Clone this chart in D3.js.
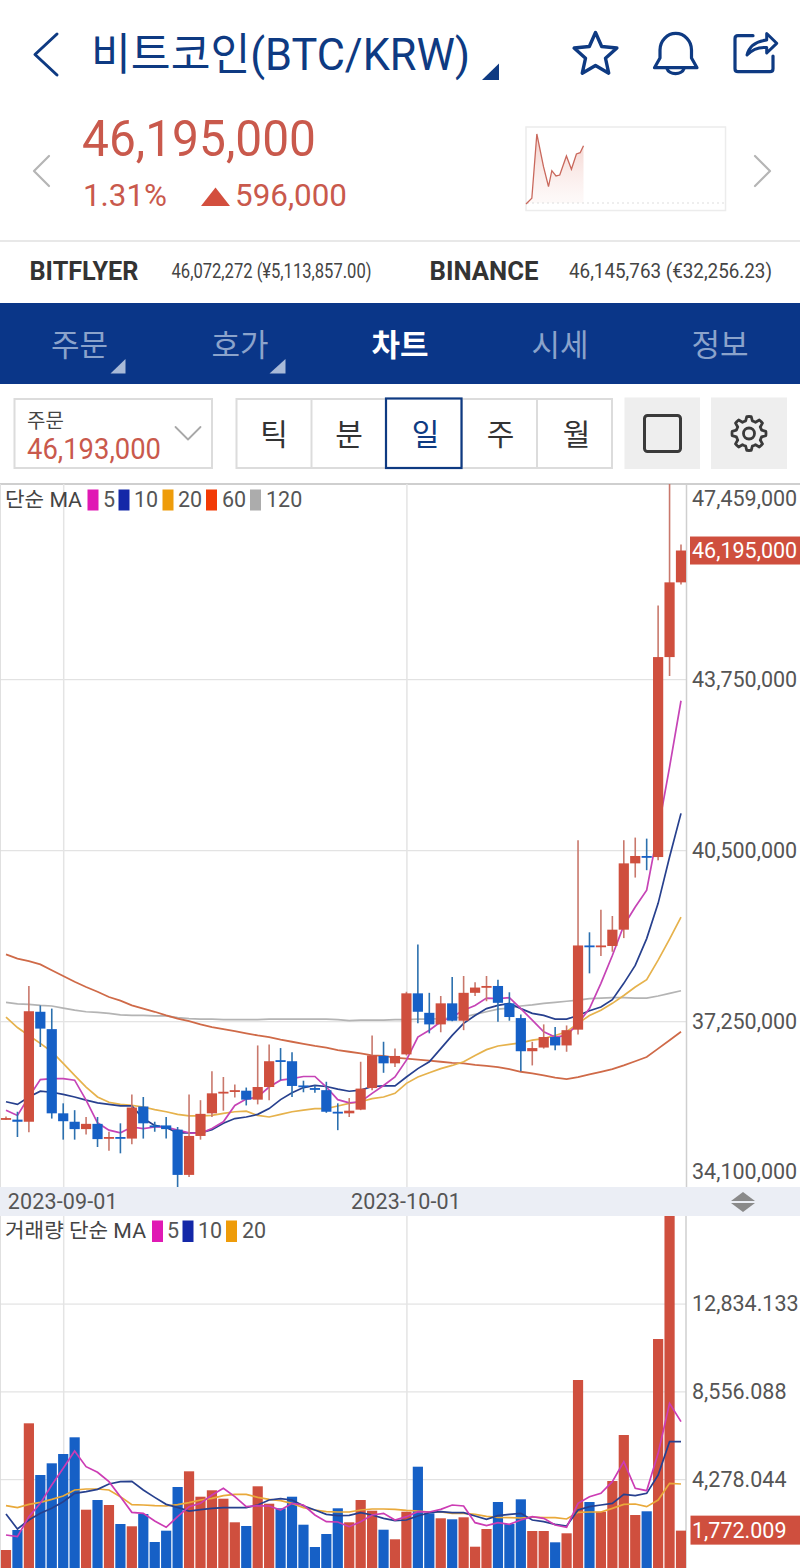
<!DOCTYPE html>
<html lang="ko">
<head>
<meta charset="utf-8">
<title>BTC/KRW</title>
<script src="https://cdn.jsdelivr.net/npm/d3@7"></script>
<style>
  html, body { margin: 0; padding: 0; background: #fff; }
  svg { display: block; font-family: Roboto, "Noto Sans CJK KR", sans-serif; }
  .axis text { font-family: Roboto, sans-serif; font-size: 21.5px; fill: #555; }
  .axis .domain { stroke: #cfcfcf; stroke-width: 1.5; }
  .grid .domain { display: none; }
  .grid text { display: none; }
  .grid-h line { stroke: #dcdcdc; stroke-width: 1; }
  .grid-v line { stroke: #e4e4e4; stroke-width: 1.5; }
</style>
</head>
<body>
<svg id="chart" width="800" height="1568" viewBox="0 0 800 1568"></svg>
<script>
// daily candles, KRW in thousands
const openK = [35390,35380,35340,37430,37100,35500,35340,35200,35300,35020,35050,35020,35630,35270,35270,35190,34330,35070,35500,35880,
  35910,35930,35760,36000,36510,36490,36030,35980,35940,35530,35500,35570,35980,36590,36450,36620,37780,37410,37190,37590,
  37260,37790,37890,37920,37590,37310,36680,36750,36950,36790,37090,38690,38660,38680,38990,40250,40390,40370,44170,45590];
const highK = [35440,35530,37920,37550,37490,35690,35560,35430,35430,35150,35310,35860,35810,35340,35430,35240,35860,35750,36300,36190,
  36050,35990,36790,36810,36740,36660,36120,36030,36100,35690,35790,36480,36980,36860,36730,37810,38710,37790,37730,38090,
  38110,37990,38110,38040,37800,37380,36860,37190,37140,37170,40690,38940,39370,39250,40690,40740,40720,45150,47459,46310];
const lowK = [35380,35050,35140,36760,35400,35000,35000,35100,34860,34790,34740,34910,35020,35150,35020,34100,34290,35000,35430,35550,
  35800,35650,35670,35750,36130,35810,35900,35890,35510,35180,35430,35560,35940,36270,36380,36600,37210,37020,37040,37250,
  37080,37730,37630,37240,37260,36300,36410,36730,36700,36670,37000,38160,38490,38570,38830,39980,40120,40310,43810,45550];
const closeK = [35410,35340,37440,37110,35500,35350,35200,35300,35010,35050,35030,35610,35310,35240,35200,34330,35070,35490,35880,35910,
  35940,35760,36000,36490,36480,36020,36000,35960,35530,35500,35550,35970,36600,36450,36590,37780,37430,37190,37590,37260,
  37790,37890,37920,37600,37330,36680,36740,36950,36790,37080,38690,38660,38690,38990,40250,40390,40370,44170,45590,46195];

const ma5 = [35560,35460,35810,36140,36160,36160,36130,35750,35320,35180,35130,35240,35210,35240,35240,35180,35130,35120,35210,35340,
  35650,35770,35810,36000,36130,36160,36200,36200,36000,35760,35700,35720,35880,36030,36190,36510,36950,37080,37240,37330,
  37460,37550,37690,37680,37700,37490,37270,37050,36950,36980,37210,37490,37970,38500,39070,39420,39740,40880,42080,43340];
const ma10 = [35720,35670,35810,35920,35900,35860,35810,35750,35700,35670,35640,35640,35400,35270,35230,35130,35130,35130,35190,35310,
  35400,35430,35480,35590,35760,35890,35990,36030,36010,35960,35920,35940,36010,36020,36020,36190,36350,36480,36730,36980,
  37210,37360,37490,37550,37590,37490,37400,37360,37290,37290,37360,37450,37520,37660,37970,38310,38820,39490,40370,41200];
const ma20 = [37330,37130,36980,36830,36670,36450,36220,36000,35810,35710,35670,35650,35620,35570,35530,35480,35450,35450,35460,35500,
  35530,35540,35460,35430,35480,35530,35560,35590,35590,35640,35690,35720,35780,35810,35880,36070,36190,36270,36350,36410,
  36480,36600,36710,36780,36810,36840,36890,36920,36980,37050,37210,37360,37460,37590,37740,37900,38040,38410,38810,39230];
const ma60 = [38520,38440,38390,38330,38220,38110,38000,37900,37810,37710,37640,37550,37490,37430,37360,37300,37250,37190,37140,37100,
  37060,37020,36980,36950,36900,36860,36820,36780,36750,36700,36670,36640,36600,36590,36560,36540,36520,36500,36480,36460,
  36450,36420,36400,36380,36340,36290,36260,36220,36180,36150,36190,36240,36290,36340,36410,36490,36570,36730,36890,37050];
const ma120 = [37610,37580,37570,37550,37540,37500,37460,37430,37420,37400,37370,37360,37360,37350,37350,37320,37300,37290,37290,37280,
  37280,37280,37280,37290,37290,37290,37290,37290,37290,37280,37260,37270,37270,37270,37280,37280,37290,37290,37300,37310,
  37330,37380,37430,37480,37500,37540,37560,37590,37610,37630,37650,37680,37690,37700,37700,37690,37690,37730,37780,37830];

const volume = [828,1803,7001,4482,5052,5505,6319,2792,3264,3021,2095,1983,2582,1218,1769,3898,4662,3425,3737,3328,
  2178,1998,3932,3084,2860,3425,2061,974,1608,2860,2178,3264,2743,1817,1350,2694,4887,2616,2373,2324,
  2421,989,1851,3167,2095,3298,1754,1754,1203,1642,9111,3167,2694,4190,6431,2533,2714,11108,17102,1772.009];
const volMa5 = [1559,1478,2452,3102,3995,4807,5652,4888,4612,4157,3427,2663,2615,2241,1933,2452,2939,3102,3508,3833,
  3427,2939,2988,2972,2777,3102,3021,2533,2209,2192,1965,2209,2533,2615,2290,2452,2696,2680,2810,3021,
  2972,2160,2014,2160,2079,2290,2452,2371,2046,1933,3102,3427,3589,4157,5132,3833,3719,5538,7974,7081];
const volMa10 = [2582,1851,2290,2615,2858,3183,3589,3670,3784,4044,4157,4174,3751,3394,3053,2907,2728,2793,2858,2891,
  2891,2891,3021,3264,3329,3264,2988,2777,2566,2501,2517,2647,2533,2371,2257,2290,2485,2647,2696,2647,
  2647,2485,2322,2501,2566,2615,2290,2209,2079,1998,2777,2939,3021,3102,3540,3475,3589,4482,6106,6106];
const volMa20 = [2988,2891,3053,3151,3297,3459,3751,3800,3800,3751,3427,3037,3021,2988,2972,3037,3134,3264,3345,3475,
  3540,3540,3394,3297,3232,3102,2891,2777,2696,2680,2680,2777,2826,2826,2810,2761,2728,2680,2680,2615,
  2615,2566,2468,2420,2404,2387,2436,2404,2404,2339,2663,2680,2680,2858,3053,3069,2939,3264,4076,4044];

const priceTicks = [47459, 43750, 40500, 37250, 34100];
const priceGrid = [43750, 40500, 37250];
const volumeTicks = [4278.044, 8556.088, 12834.133];
const lastPrice = 46195;
const lastVolume = 1772.009;

// 24h mini chart on the header
const sparkHours = [0,0.7,1.3,2.1,2.7,3.1,3.6,4.05,4.85,5.45,6.05,6.5,6.9];
const sparkPrices = [45589,45648,46317,45977,45769,45935,45880,45890,46088,45950,46109,46122,46195];
const prevClose = 45599;

const priceLegend = [
  { label: "5", color: "#e019b4", x: 87.5, tx: 103 },
  { label: "10", color: "#1428a8", x: 118.5, tx: 134 },
  { label: "20", color: "#ee9c0a", x: 162.5, tx: 178 },
  { label: "60", color: "#f23a05", x: 206, tx: 222 },
  { label: "120", color: "#acacac", x: 250, tx: 266 }
];
const volumeLegend = [
  { label: "5", color: "#e019b4", x: 152, tx: 167 },
  { label: "10", color: "#1428a8", x: 182.5, tx: 198 },
  { label: "20", color: "#ee9c0a", x: 226, tx: 242 }
];

const RED = "#cf4f3e";
const BLUE = "#1660c6";
const NAVY = "#0e3a82";
const PRICE_RED = "#c9594c";

const svg = d3.select("#chart");

const txt = (parent, str, x, y, size, fill, opts = {}) => {
  const t = parent.append("text")
    .text(str)
    .attr("x", x)
    .attr("y", y)
    .attr("font-size", size)
    .attr("fill", fill)
    .attr("text-anchor", opts.anchor || "start")
    .attr("font-weight", opts.weight || 400);
  if (opts.len) {
    t.attr("textLength", opts.len).attr("lengthAdjust", "spacingAndGlyphs");
  }
  return t;
};

const icon = (d, stroke, width, fill = "none") => {
  svg.append("path")
    .attr("d", d)
    .attr("fill", fill)
    .attr("stroke", stroke)
    .attr("stroke-width", width)
    .attr("stroke-linejoin", "round")
    .attr("stroke-linecap", "round");
};

/* ---------- header ---------- */
icon("M57,34 L35,54.5 L57,75", NAVY, 3);
txt(svg, "비트코인(BTC/KRW)", 91, 70, 44, NAVY, { len: 379 });
icon("M499,63.5 V80 H482 Z", NAVY, 0, NAVY);

const starPoints = d3.range(10).map((i) => {
  const r = i % 2 === 0 ? 22.5 : 10.5;
  const a = (i * Math.PI) / 5;
  return [595.5 + r * Math.sin(a), 55 - r * Math.cos(a)];
});
icon("M" + starPoints.join("L") + "Z", NAVY, 3.4);
icon("M654.5,67.7 L660,58 V50 A15.7,16.5 0 0 1 691.5,50 V58 L697,67.7 Z", NAVY, 3.2);
icon("M667,68.5 A8.7,6.5 0 0 0 684,68.5", NAVY, 3.2);
icon("M753,35.7 H738 Q735,35.7 735,38.7 V68.7 Q735,71.7 738,71.7 H770 Q773,71.7 773,68.7 V56", NAVY, 3.2);
icon("M747,55 Q750,42 766.7,40 V33.5 L776.7,43.3 L766.7,53 V47.5 Q755,46.5 747,55 Z", NAVY, 3);

icon("M49,156 L34,171 L49,186", "#b5b5b5", 2.2);
icon("M755,156 L770,171 L755,186", "#b5b5b5", 2.2);
txt(svg, "46,195,000", 82, 156, 50, PRICE_RED, { len: 234 });
txt(svg, "1.31%", 83, 206, 32, PRICE_RED, { len: 84 });
icon("M215.5,187.5 L230,206 H201 Z", "none", 0, "#d34f3e");
txt(svg, "596,000", 235, 206, 32, PRICE_RED, { len: 112 });

// mini chart
const spark = svg.append("g");
spark.append("rect")
  .attr("x", 526).attr("y", 127).attr("width", 199.5).attr("height", 83.5)
  .attr("fill", "#fff").attr("stroke", "#ececec").attr("stroke-width", 1.5);
const sparkX = d3.scaleLinear().domain([0, 24]).range([526, 726]);
const sparkY = d3.scaleLinear().domain([prevClose, lastPrice]).range([203, 145.7]);
const sparkGrad = svg.append("defs").append("linearGradient")
  .attr("id", "sparkFill").attr("x1", 0).attr("y1", 0).attr("x2", 0).attr("y2", 1);
sparkGrad.append("stop").attr("offset", "0%").attr("stop-color", "#e9a59b").attr("stop-opacity", 0.55);
sparkGrad.append("stop").attr("offset", "100%").attr("stop-color", "#f6dcd8").attr("stop-opacity", 0.15);
const sparkData = sparkHours.map((h, i) => ({ h: h, p: sparkPrices[i] }));
spark.append("path")
  .attr("d", d3.area().x((d) => sparkX(d.h)).y0(203).y1((d) => sparkY(d.p))(sparkData))
  .attr("fill", "url(#sparkFill)");
spark.append("line")
  .attr("x1", 527).attr("x2", 724).attr("y1", 203).attr("y2", 203)
  .attr("stroke", "#ddd").attr("stroke-dasharray", "2,3");
spark.append("path")
  .attr("d", d3.line().x((d) => sparkX(d.h)).y((d) => sparkY(d.p))(sparkData))
  .attr("fill", "none").attr("stroke", "#c9685c").attr("stroke-width", 1.3);

// exchange row
svg.append("rect").attr("x", 0).attr("y", 240).attr("width", 800).attr("height", 2).attr("fill", "#e8e8e8");
txt(svg, "BITFLYER", 29.5, 279.5, 25, "#333", { weight: 700, len: 109 });
txt(svg, "46,072,272 (¥5,113,857.00)", 171.5, 278, 20, "#444", { len: 200 });
txt(svg, "BINANCE", 429.5, 279.5, 25, "#333", { weight: 700, len: 109 });
txt(svg, "46,145,763 (€32,256.23)", 569, 278, 20, "#444", { len: 203 });

// blue tab bar
svg.append("rect").attr("x", 0).attr("y", 303).attr("width", 800).attr("height", 81).attr("fill", "#0a3688");
const tabs = [
  { label: "주문", x: 79.5 },
  { label: "호가", x: 240 },
  { label: "차트", x: 400, on: true },
  { label: "시세", x: 560 },
  { label: "정보", x: 720 }
];
tabs.forEach((tab) => {
  txt(svg, tab.label, tab.x, 355.5, 31, tab.on ? "#fff" : "#8ba3cb", {
    anchor: "middle",
    weight: tab.on ? 700 : 400
  });
});
icon("M125.5,359 V373.5 H110.5 Z", "none", 0, "#a8bad8");
icon("M285.5,359 V373.5 H269.5 Z", "none", 0, "#a8bad8");

// toolbar
svg.append("rect")
  .attr("x", 14.5).attr("y", 399).attr("width", 197.5).attr("height", 69)
  .attr("fill", "#fff").attr("stroke", "#dcdcdc").attr("stroke-width", 2);
txt(svg, "주문", 27, 427.5, 20, "#444");
txt(svg, "46,193,000", 27, 458.5, 29, PRICE_RED, { len: 134 });
icon("M175.5,427 L188,439.5 L200.5,427", "#a8a8a8", 1.8);

const segEdges = [236, 311.5, 386, 462, 537, 612];
const segLabels = ["틱", "분", "일", "주", "월"];
const segCenters = [274, 349, 425.5, 500.5, 576.5];
svg.append("rect")
  .attr("x", 236.5).attr("y", 399).attr("width", 375.5).attr("height", 69)
  .attr("fill", "#fff").attr("stroke", "#dcdcdc").attr("stroke-width", 2);
segEdges.slice(1, -1).forEach((e) => {
  svg.append("line").attr("x1", e).attr("x2", e).attr("y1", 399).attr("y2", 468)
    .attr("stroke", "#dcdcdc").attr("stroke-width", 2);
});
svg.append("rect")
  .attr("x", 386).attr("y", 398.5).attr("width", 75.5).attr("height", 69.5)
  .attr("fill", "#fff").attr("stroke", NAVY).attr("stroke-width", 2.2);
segLabels.forEach((s, i) => {
  txt(svg, s, segCenters[i], 445, 30, i === 2 ? NAVY : "#333", { anchor: "middle" });
});

svg.append("rect").attr("x", 624.5).attr("y", 397.5).attr("width", 75.5).attr("height", 71.5).attr("fill", "#eeeeee");
svg.append("rect").attr("x", 711).attr("y", 397.5).attr("width", 76).attr("height", 71.5).attr("fill", "#eeeeee");
svg.append("rect")
  .attr("x", 644.5).attr("y", 415.5).attr("width", 36).attr("height", 36).attr("rx", 3)
  .attr("fill", "none").attr("stroke", "#3a3a3a").attr("stroke-width", 3);
const gearPoints = d3.range(48).map((i) => {
  const phase = i % 6;
  const r = phase === 0 || phase === 1 || phase === 5 ? 17 : 13;
  const a = (i * Math.PI) / 24;
  return [749 + r * Math.sin(a), 433.5 - r * Math.cos(a)];
});
icon("M" + gearPoints.join("L") + "Z", "#3a3a3a", 2.8);
svg.append("circle").attr("cx", 749).attr("cy", 433.5).attr("r", 5.5)
  .attr("fill", "none").attr("stroke", "#3a3a3a").attr("stroke-width", 2.8);

/* ---------- scales ---------- */
const days = d3.timeDay.range(new Date(2023, 7, 27), new Date(2023, 9, 26));
const dateTicks = [new Date(2023, 8, 1), new Date(2023, 9, 1)];

const plotRight = 686;
const priceTop = 484;
const priceBottom = 1187;
const volumeTop = 1216;
const volumeBase = 1567;

const x = d3.scaleTime().domain([days[0], days[days.length - 1]]).range([6, 681]);
const yPrice = d3.scaleLinear().domain([34100, 47459]).range([priceBottom, priceTop]);
const yVolume = d3.scaleLinear().domain([0, 17102]).range([volumeBase, volumeTop]);
const bodyWidth = 10.2;

const defs = svg.append("defs");
defs.append("clipPath").attr("id", "priceClip").append("rect")
  .attr("x", 0).attr("y", priceTop).attr("width", plotRight).attr("height", priceBottom - priceTop);
defs.append("clipPath").attr("id", "volumeClip").append("rect")
  .attr("x", 0).attr("y", volumeTop).attr("width", plotRight).attr("height", 1568 - volumeTop);

/* ---------- price panel ---------- */
svg.append("rect").attr("x", 0).attr("y", 483).attr("width", 800).attr("height", 2).attr("fill", "#cfcfcf");
svg.append("rect").attr("x", 0).attr("y", 484).attr("width", 1).attr("height", 703).attr("fill", "#e0e0e0");

svg.append("g").attr("class", "grid grid-h")
  .call(d3.axisLeft(yPrice).tickValues(priceGrid).tickSize(-plotRight).tickFormat(""));
svg.append("g").attr("class", "grid grid-v")
  .attr("transform", "translate(0," + priceBottom + ")")
  .call(d3.axisBottom(x).tickValues(dateTicks).tickSize(-(priceBottom - priceTop)).tickFormat(""));

const priceAxis = svg.append("g").attr("class", "axis")
  .attr("transform", "translate(" + plotRight + ",0)")
  .call(d3.axisRight(yPrice).tickValues(priceTicks).tickSize(0).tickPadding(6)
    .tickFormat((d) => d3.format(",")(d * 1000)));
priceAxis.selectAll(".tick text").attr("transform", (d) => {
  if (d === 47459) return "translate(0,15)";
  if (d === 34100) return "translate(0,-15)";
  return null;
});

const pricePlot = svg.append("g").attr("clip-path", "url(#priceClip)");
const maLine = d3.line().x((d, i) => x(days[i])).y((d) => yPrice(d));
[
  [ma120, "#b4b4b4", 1.7],
  [ma60, "#cf6a48", 1.8],
  [ma20, "#e6b24c", 1.7],
  [ma10, "#27408e", 1.7],
  [ma5, "#c644b6", 1.7]
].forEach((m) => {
  pricePlot.append("path")
    .attr("d", maLine(m[0]))
    .attr("fill", "none")
    .attr("stroke", m[1])
    .attr("stroke-width", m[2]);
});

const candles = days.map((day, i) => ({
  day: day,
  open: openK[i],
  high: highK[i],
  low: lowK[i],
  close: closeK[i],
  volume: volume[i],
  up: closeK[i] >= openK[i]
}));

const candle = pricePlot.selectAll("g.candle")
  .data(candles)
  .enter()
  .append("g")
  .attr("class", "candle");
candle.append("line")
  .attr("x1", (d) => x(d.day))
  .attr("x2", (d) => x(d.day))
  .attr("y1", (d) => yPrice(d.high))
  .attr("y2", (d) => yPrice(d.low))
  .attr("stroke", (d) => (d.up ? "#c9786c" : "#2c70ae"))
  .attr("stroke-width", 1.6);
candle.append("rect")
  .attr("x", (d) => x(d.day) - bodyWidth / 2)
  .attr("width", bodyWidth)
  .attr("y", (d) => yPrice(Math.max(d.open, d.close)))
  .attr("height", (d) => Math.max(1.8, Math.abs(yPrice(d.open) - yPrice(d.close))))
  .attr("fill", (d) => (d.up ? RED : BLUE));

svg.append("rect")
  .attr("x", 690).attr("y", yPrice(lastPrice) - 14).attr("width", 110).attr("height", 28)
  .attr("fill", RED);
txt(svg, d3.format(",")(lastPrice * 1000), 692, yPrice(lastPrice) + 7.7, 21.5, "#fff");

const drawLegend = (items, top, height) => {
  items.forEach((item) => {
    svg.append("rect")
      .attr("x", item.x).attr("y", top).attr("width", 11).attr("height", height)
      .attr("fill", item.color);
    txt(svg, item.label, item.tx, top + height - 4, 21.5, "#555");
  });
};
txt(svg, "단순 MA", 5, 506.5, 20.5, "#444", { len: 77 });
drawLegend(priceLegend, 489.5, 21);

/* ---------- date strip ---------- */
svg.append("rect").attr("x", 0).attr("y", priceBottom).attr("width", 800).attr("height", volumeTop - priceBottom).attr("fill", "#ebeef5");
const dateAxis = svg.append("g").attr("class", "axis")
  .attr("transform", "translate(0," + priceBottom + ")")
  .call(d3.axisBottom(x).tickValues(dateTicks).tickSize(0).tickPadding(7)
    .tickFormat(d3.timeFormat("%Y-%m-%d")));
dateAxis.select(".domain").remove();
dateAxis.selectAll(".tick text")
  .attr("x", -1)
  .attr("textLength", 110)
  .attr("lengthAdjust", "spacing");
icon("M743,1192 L755,1201 H731 Z", "none", 0, "#8a8a8a");
icon("M743,1212 L755,1203 H731 Z", "none", 0, "#8a8a8a");

/* ---------- volume panel ---------- */
svg.append("rect").attr("x", 0).attr("y", volumeTop).attr("width", 1).attr("height", 352).attr("fill", "#e0e0e0");
svg.append("g").attr("class", "grid grid-h")
  .call(d3.axisLeft(yVolume).tickValues(volumeTicks).tickSize(-plotRight).tickFormat(""));
svg.append("g").attr("class", "grid grid-v")
  .attr("transform", "translate(0,1568)")
  .call(d3.axisBottom(x).tickValues(dateTicks).tickSize(-(1568 - volumeTop)).tickFormat(""));

const volumeAxis = svg.append("g").attr("class", "axis")
  .attr("transform", "translate(" + plotRight + ",0)")
  .call(d3.axisRight(yVolume).tickValues(volumeTicks).tickSize(0).tickPadding(6)
    .tickFormat(d3.format(",.3f")));
volumeAxis.select(".domain").attr("d", "M0," + volumeTop + "V1568");

const volumePlot = svg.append("g").attr("clip-path", "url(#volumeClip)");
volumePlot.selectAll("rect.bar")
  .data(candles)
  .enter()
  .append("rect")
  .attr("class", "bar")
  .attr("x", (d) => x(d.day) - bodyWidth / 2)
  .attr("width", bodyWidth)
  .attr("y", (d) => yVolume(d.volume))
  .attr("height", (d) => 1568 - yVolume(d.volume))
  .attr("fill", (d) => (d.up ? RED : BLUE));

const volumeLine = d3.line().x((d, i) => x(days[i])).y((d) => yVolume(d));
[
  [volMa20, "#e9a93a"],
  [volMa10, "#27408e"],
  [volMa5, "#cc3cb4"]
].forEach((m) => {
  volumePlot.append("path")
    .attr("d", volumeLine(m[0]))
    .attr("fill", "none")
    .attr("stroke", m[1])
    .attr("stroke-width", 1.7);
});

svg.append("rect")
  .attr("x", 690.5).attr("y", yVolume(lastVolume) - 15).attr("width", 110).attr("height", 29)
  .attr("fill", RED);
txt(svg, d3.format(",.3f")(lastVolume), 692, yVolume(lastVolume) + 7.5, 21.5, "#fff");

txt(svg, "거래량 단순 MA", 5, 1238, 20.5, "#444", { len: 141 });
drawLegend(volumeLegend, 1220.5, 21.5);
</script>
</body>
</html>
